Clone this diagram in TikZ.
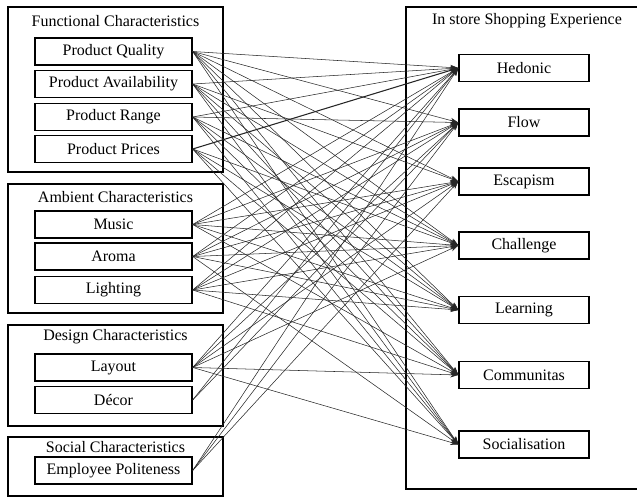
\documentclass[tikz,border=0pt]{standalone}
\usepackage{fontspec}
\setmainfont{Liberation Serif}
\usetikzlibrary{arrows.meta}
\begin{document}
\begin{tikzpicture}[x=0.75pt,y=-0.75pt,
    font=\fontsize{12}{14}\selectfont,
    group/.style={line width=1pt},
    item/.style={draw,line width=1pt,minimum width=117.75pt,minimum height=20.25pt,inner sep=0pt},
    dim/.style={draw,line width=1pt,minimum width=97.5pt,minimum height=20.25pt,inner sep=0pt},
    link/.style={-{Stealth[length=6pt,width=4pt]},line width=0.4pt,draw=black!85}]
   \useasboundingbox (0,0) rectangle (637,497);
   % the four groups of store characteristics
   \draw[group] (8,7) rectangle (223,172);
   \draw[group] (8,184) rectangle (223,313);
   \draw[group] (8,325) rectangle (223,426);
   \draw[group] (8,437) rectangle (223,496);
   \draw[group] (637.5,7) -- (406,7) -- (406,489) -- (637.5,489);
   \node (tfun) at (115.5,21) {Functional Characteristics};
   \node (tamb) at (115.5,197) {Ambient Characteristics};
   \node (tdes) at (115.5,337) {Design Characteristics};
   \node (tsoc) at (115.5,447) {Social Characteristics};
   \node (texp) at (527,21) {In store Shopping Experience};
   % left items
   \node[item] (quality) at (113.5,51.5) {Product Quality};
   \node[item] (avail) at (113.5,84) {Product Availability};
   \node[item] (range) at (113.5,117) {Product Range};
   \node[item] (prices) at (113.5,149) {Product Prices};
   \node[item] (music) at (113.5,224.5) {Music};
   \node[item] (aroma) at (113.5,256.5) {Aroma};
   \node[item] (light) at (113.5,290) {Lighting};
   \node[item] (layout) at (113.5,367.5) {Layout};
   \node[item] (decor) at (113.5,400) {Décor};
   \node[item] (staff) at (113.5,470.5) {Employee Politeness};
   % experience dimensions
   \node[dim] (hedonic) at (524,68) {Hedonic};
   \node[dim] (flow) at (524,122.5) {Flow};
   \node[dim] (escape) at (524,181.5) {Escapism};
   \node[dim] (chall) at (524,245.5) {Challenge};
   \node[dim] (learn) at (524,310) {Learning};
   \node[dim] (commun) at (524,375) {Communitas};
   \node[dim] (social) at (524,444.5) {Socialisation};
   % hypothesised links
   \foreach \s/\t in {quality/hedonic,quality/flow,quality/escape,quality/chall,quality/learn,quality/commun,quality/social,
      avail/hedonic,avail/escape,avail/chall,avail/learn,avail/commun,avail/social,
      range/hedonic,range/flow,range/chall,range/learn,range/commun,range/social,
      prices/chall,prices/learn,prices/commun,prices/social,
      music/hedonic,music/flow,music/escape,music/chall,music/learn,music/commun,
      aroma/hedonic,aroma/flow,aroma/escape,aroma/chall,aroma/learn,aroma/social,
      light/hedonic,light/flow,light/escape,light/chall,light/learn,light/commun,
      layout/hedonic,layout/flow,layout/escape,layout/chall,layout/commun,layout/social,
      decor/hedonic,decor/flow,
      staff/hedonic,staff/flow,staff/escape}
   \draw[link] (\s.east) -- (\t.west);
   \draw[link,line width=0.8pt] (prices.east) -- (hedonic.west);
\end{tikzpicture}
\end{document}
